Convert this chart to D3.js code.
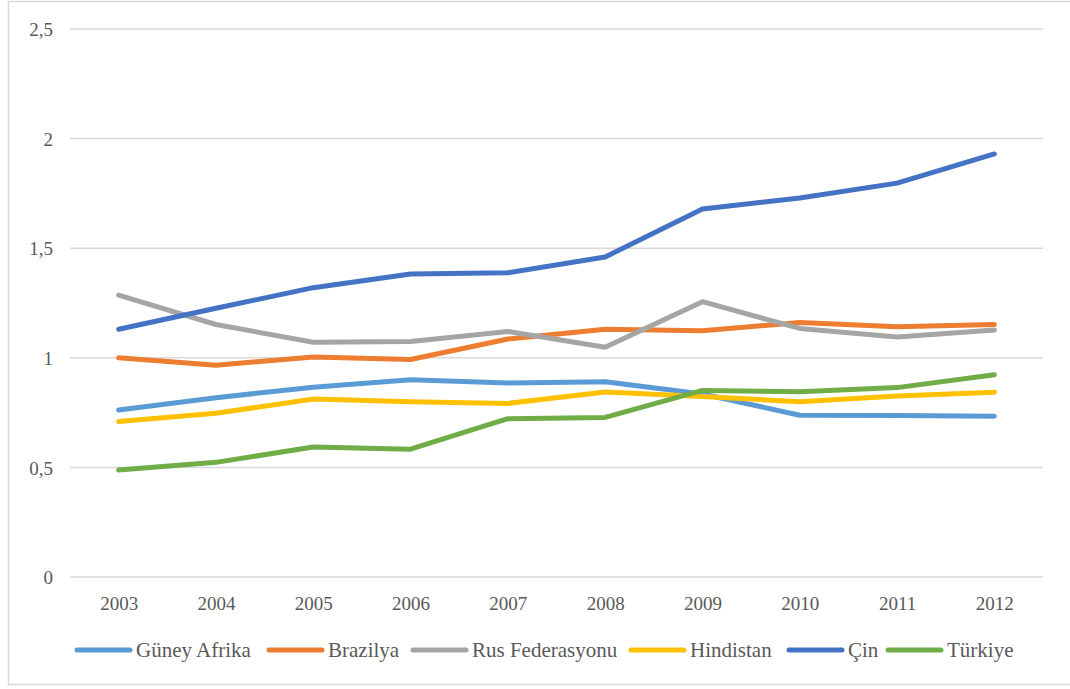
<!DOCTYPE html>
<html>
<head>
<meta charset="utf-8">
<script src="https://cdn.jsdelivr.net/npm/d3@7"></script>
<style>
  html, body { margin: 0; padding: 0; background: #fff; }
  svg { display: block; }
</style>
</head>
<body>
<svg id="chart" width="1070" height="689"></svg>
<script>
// Years on the category axis
const years = ["2003", "2004", "2005", "2006", "2007", "2008", "2009", "2010", "2011", "2012"];

// Series names, in legend order
const seriesNames = ["Güney Afrika", "Brazilya", "Rus Federasyonu", "Hindistan", "Çin", "Türkiye"];

// Values per series, 2003–2012
const guneyAfrika    = [0.762, 0.818, 0.866, 0.900, 0.885, 0.891, 0.835, 0.738, 0.737, 0.733];
const brazilya       = [1.000, 0.966, 1.004, 0.992, 1.086, 1.130, 1.123, 1.161, 1.142, 1.152];
const rusFederasyonu = [1.286, 1.152, 1.071, 1.074, 1.120, 1.048, 1.256, 1.134, 1.095, 1.127];
const hindistan      = [0.709, 0.747, 0.812, 0.800, 0.792, 0.844, 0.823, 0.800, 0.826, 0.843];
const cin            = [1.130, 1.226, 1.320, 1.382, 1.388, 1.460, 1.679, 1.729, 1.797, 1.930];
const turkiye        = [0.488, 0.523, 0.593, 0.583, 0.722, 0.728, 0.851, 0.845, 0.864, 0.923];

// Y-axis ticks and their labels (decimal comma)
const yTicks = [0, 0.5, 1, 1.5, 2, 2.5];
const yTickLabels = ["0", "0,5", "1", "1,5", "2", "2,5"];

const seriesValues = [guneyAfrika, brazilya, rusFederasyonu, hindistan, cin, turkiye];
const colors = ["#5B9BD5", "#ED7D31", "#A5A5A5", "#FFC000", "#4472C4", "#70AD47"];

// Pick the first installed serif face (Times-like), tested by glyph width
function pickFont(candidates) {
  const ctx = document.createElement("canvas").getContext("2d");
  const sample = "Rus Federasyonu 2003 mmmWWiil";
  const widthOf = f => { ctx.font = "40px " + f; return ctx.measureText(sample).width; };
  const baseMono = widthOf("monospace");
  const baseSans = widthOf("sans-serif");
  for (const c of candidates) {
    const wm = widthOf(`'${c}', monospace`);
    const ws = widthOf(`'${c}', sans-serif`);
    if (wm !== baseMono || ws !== baseSans) return `'${c}', serif`;
  }
  return "serif";
}
const FONT = pickFont(["Liberation Serif", "Times New Roman", "Tinos", "DejaVu Serif", "Noto Serif", "FreeSerif", "Nimbus Roman", "Times"]);

const svg = d3.select("#chart");

// Outer chart frame
svg.append("rect")
  .attr("x", 8.5).attr("y", 1.5)
  .attr("width", 1070).attr("height", 683)
  .attr("fill", "none").attr("stroke", "#d9d9d9").attr("stroke-width", 1.5);

const plot = { left: 70, right: 1043, top: 29, bottom: 577 };

const x = d3.scalePoint().domain(years).range([plot.left, plot.right]).padding(0.5);
const y = d3.scaleLinear().domain([0, 2.5]).range([plot.bottom, plot.top]);

// Horizontal gridlines
svg.append("g").selectAll("line")
  .data(yTicks)
  .join("line")
  .attr("x1", plot.left).attr("x2", plot.right)
  .attr("y1", d => y(d)).attr("y2", d => y(d))
  .attr("stroke", "#d9d9d9").attr("stroke-width", 1.5);

// Y-axis labels
const yAxis = d3.axisLeft(y)
  .tickValues(yTicks)
  .tickFormat((d, i) => yTickLabels[i])
  .tickSize(0).tickPadding(0);
const gy = svg.append("g").attr("transform", "translate(53,0)").call(yAxis)
  .attr("font-family", FONT).attr("font-size", 19);
gy.select(".domain").remove();
gy.selectAll("text").attr("dy", "0.35em").attr("fill", "#595959");

// X-axis labels
const xAxis = d3.axisBottom(x).tickSize(0).tickPadding(0);
const gx = svg.append("g").attr("transform", "translate(0,603)").call(xAxis)
  .attr("font-family", FONT).attr("font-size", 19);
gx.select(".domain").remove();
gx.selectAll("text").attr("dy", "0.35em").attr("fill", "#595959");

// Series lines
const line = d3.line()
  .x((d, i) => x(years[i]))
  .y(d => y(d));

svg.append("g").selectAll("path")
  .data(seriesValues)
  .join("path")
  .attr("d", d => line(d))
  .attr("fill", "none")
  .attr("stroke", (d, i) => colors[i])
  .attr("stroke-width", 5)
  .attr("stroke-linecap", "round")
  .attr("stroke-linejoin", "round");

// Legend
const legendX = [75, 267, 411, 629, 787, 886];
const legendY = 650;
const legend = svg.append("g")
  .attr("font-family", FONT).attr("font-size", 21).attr("fill", "#595959")
  .selectAll("g")
  .data(seriesNames)
  .join("g")
  .attr("transform", (d, i) => `translate(${legendX[i]},${legendY})`);
legend.append("line")
  .attr("x1", 2).attr("x2", 55)
  .attr("y1", 0).attr("y2", 0)
  .attr("stroke", (d, i) => colors[i])
  .attr("stroke-width", 5)
  .attr("stroke-linecap", "round");
legend.append("text")
  .attr("x", 61).attr("y", 0).attr("dy", "0.35em")
  .text(d => d);
</script>
</body>
</html>
